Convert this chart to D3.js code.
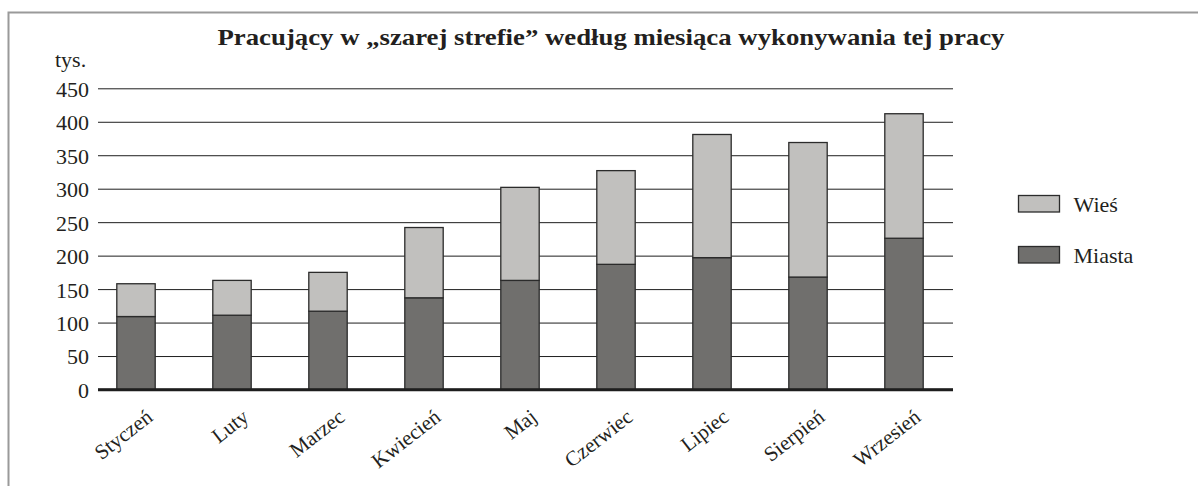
<!DOCTYPE html>
<html>
<head>
<meta charset="utf-8">
<script src="https://cdn.jsdelivr.net/npm/d3@7"></script>
<style>
  body { margin: 0; background: #fff; }
</style>
</head>
<body>
<script>
var w = 1198, h = 486;
var serif = "'Liberation Serif', 'Times New Roman', serif";

// data (thousands)
var months = ["Styczeń", "Luty", "Marzec", "Kwiecień", "Maj", "Czerwiec", "Lipiec", "Sierpień", "Wrzesień"];
var miasta = [109, 111, 117, 137, 163, 187, 197, 168, 226];
var wies = [49, 52, 58, 105, 139, 140, 184, 201, 186];
var yTicks = [0, 50, 100, 150, 200, 250, 300, 350, 400, 450];
var seriesNames = ["Miasta", "Wieś"];
var colors = { "Miasta": "#706f6d", "Wieś": "#c1c0be" };

var rows = months.map(function (m, i) {
    return { month: m, "Miasta": miasta[i], "Wieś": wies[i] };
});
var series = d3.stack().keys(seriesNames)(rows);

var svg = d3.select("body").append("svg")
    .attr("width", w)
    .attr("height", h)
    .style("font-family", serif);

// frame (only top and left edges are visible)
svg.append("path")
    .attr("d", "M8.5," + h + "V12.5H" + w)
    .attr("fill", "none")
    .attr("stroke", "#9a9a9a")
    .attr("stroke-width", 2);

var xScale = d3.scaleBand()
    .domain(months)
    .range([88, 952])
    .paddingInner(0.6)
    .paddingOuter(0.3);

var yScale = d3.scaleLinear()
    .domain([0, 450])
    .range([389.5, 88.3]);

// gridlines + y labels
var yAxis = d3.axisLeft(yScale)
    .tickValues(yTicks)
    .tickSize(-855)
    .tickPadding(9)
    .tickFormat(d3.format("d"));
var gy = svg.append("g")
    .attr("transform", "translate(98,0)")
    .call(yAxis);
gy.attr("font-family", null).attr("font-size", null);
gy.select(".domain").remove();
gy.selectAll(".tick line")
    .attr("stroke", "#1e1e1e")
    .attr("stroke-width", function (d) { return d === 0 ? 2.5 : 1; });
gy.selectAll(".tick text")
    .attr("dy", "0.36em")
    .style("font-family", serif)
    .style("font-size", "22px")
    .attr("fill", "#231f20");

svg.append("text")
    .attr("x", 55)
    .attr("y", 67)
    .style("font-family", serif)
    .style("font-size", "22px")
    .attr("fill", "#231f20")
    .text("tys.");

// bars
var groups = svg.append("g").selectAll("g")
    .data(series)
    .enter()
    .append("g")
    .attr("fill", function (d) { return colors[d.key]; });

groups.selectAll("rect")
    .data(function (d) { return d; })
    .enter()
    .append("rect")
    .attr("x", function (d) { return xScale(d.data.month); })
    .attr("y", function (d) { return yScale(d[1]); })
    .attr("width", xScale.bandwidth())
    .attr("height", function (d) { return yScale(d[0]) - yScale(d[1]); })
    .attr("stroke", "#2b2b2b")
    .attr("stroke-width", 1.3);

// baseline on top of bars
svg.append("line")
    .attr("x1", 98).attr("x2", 953)
    .attr("y1", yScale(0)).attr("y2", yScale(0))
    .attr("stroke", "#1e1e1e")
    .attr("stroke-width", 2.5);

// x labels
var xAxis = d3.axisBottom(xScale).tickSize(0).tickPadding(0);
var gx = svg.append("g")
    .attr("transform", "translate(0," + yScale(0) + ")")
    .call(xAxis);
gx.attr("font-family", null).attr("font-size", null);
gx.select(".domain").remove();
gx.selectAll(".tick text")
    .attr("text-anchor", "end")
    .attr("transform", "translate(18,30) rotate(-38)")
    .attr("y", 0)
    .attr("dy", 0)
    .style("font-family", serif)
    .style("font-size", "21px")
    .attr("fill", "#231f20");

// title
svg.append("text")
    .attr("x", 611)
    .attr("y", 44.5)
    .attr("text-anchor", "middle")
    .attr("textLength", 787)
    .attr("lengthAdjust", "spacingAndGlyphs")
    .style("font-family", serif)
    .style("font-size", "24px")
    .style("font-weight", "bold")
    .attr("fill", "#231f20")
    .text("Pracujący w „szarej strefie” według miesiąca wykonywania tej pracy");

// legend
var legendNames = ["Wieś", "Miasta"];
var legend = svg.append("g").selectAll("g")
    .data(legendNames)
    .enter()
    .append("g")
    .attr("transform", function (d, i) { return "translate(1018.5," + (195.5 + i * 51) + ")"; });
legend.append("rect")
    .attr("width", 41)
    .attr("height", 16.5)
    .attr("fill", function (d) { return colors[d]; })
    .attr("stroke", "#2b2b2b")
    .attr("stroke-width", 1.3);
legend.append("text")
    .attr("x", 55)
    .attr("y", 16.5)
    .style("font-family", serif)
    .style("font-size", "22px")
    .attr("fill", "#231f20")
    .text(function (d) { return d; });
</script>
</body>
</html>
